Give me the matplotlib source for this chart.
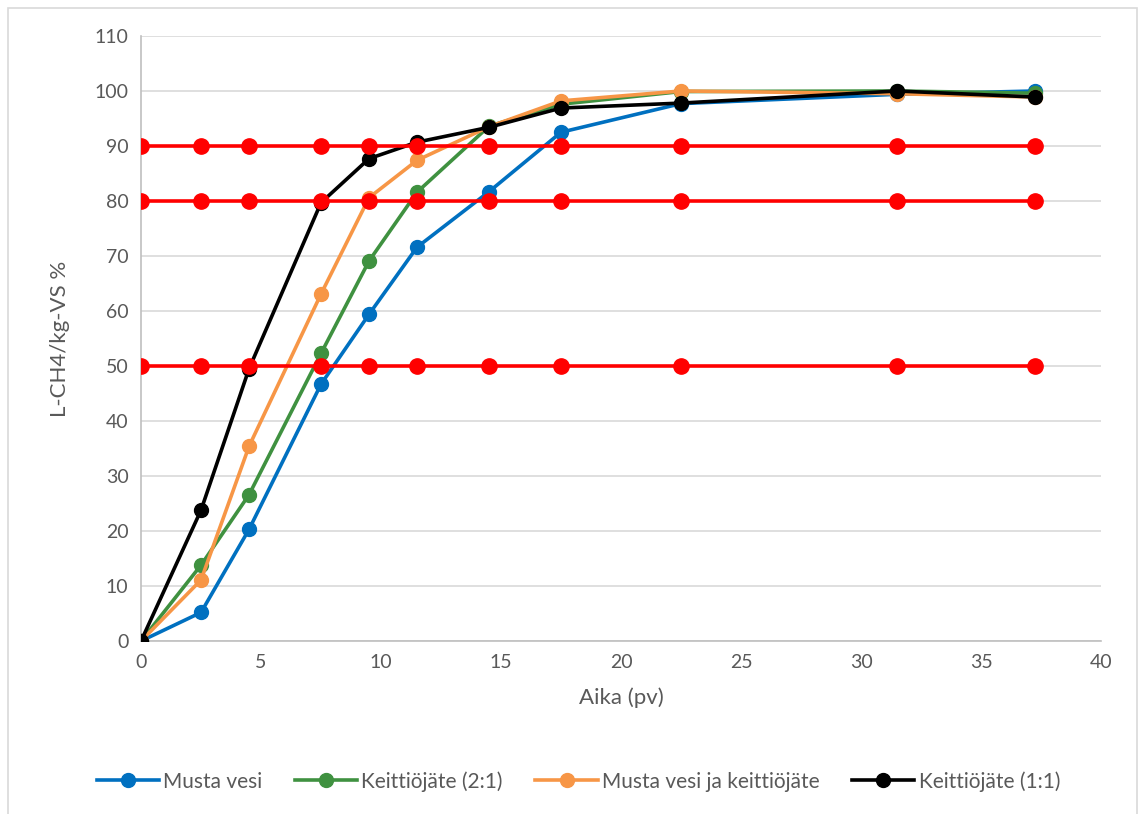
import matplotlib.pyplot as plt
from matplotlib.patches import Rectangle

# sampling days
days = [0, 2.5, 4.5, 7.5, 9.5, 11.5, 14.5, 17.5, 22.5, 31.5, 37.25]

# cumulative methane yield, % of final
musta_vesi = [0, 5.2, 20.3, 46.7, 59.4, 71.6, 81.7, 92.5, 97.7, 99.4, 100.0]
keittiojate_21 = [0, 13.8, 26.6, 52.3, 69.1, 81.6, 93.6, 97.6, 99.9, 100.0, 99.6]
mv_keittiojate = [0, 11.1, 35.4, 63.1, 80.6, 87.4, 93.5, 98.2, 100.0, 99.5, 98.9]
keittiojate_11 = [0, 23.8, 49.5, 79.7, 87.7, 90.7, 93.4, 96.9, 97.8, 100.0, 98.9]

# reference levels
levels = [50, 80, 90]

series = [
    ("Musta vesi", musta_vesi, "#0070C0"),
    ("Keittiöjäte (2:1)", keittiojate_21, "#3F9140"),
    ("Musta vesi ja keittiöjäte", mv_keittiojate, "#F79646"),
    ("Keittiöjäte (1:1)", keittiojate_11, "#000000"),
]

plt.rcParams["font.family"] = ["Lato", "DejaVu Sans"]

fig = plt.figure(figsize=(11.43, 8.14), dpi=100)
ax = fig.add_axes([0.1234, 0.2125, 0.8399, 0.7433])

for name, vals, col in series:
    ax.plot(days, vals, color=col, lw=2.6, marker="o", ms=10, label=name, zorder=3)

for lv in levels:
    ax.plot(days, [lv] * len(days), color="#FF0000", lw=2.6, marker="o", ms=11, zorder=4)

ax.set_xlim(0, 40)
ax.set_ylim(0, 110)
ax.set_xticks(range(0, 41, 5))
ax.set_yticks(range(0, 111, 10))
ax.grid(axis="y", color="#D9D9D9", lw=1.2)
ax.set_axisbelow(True)
for s in ["top", "right"]:
    ax.spines[s].set_visible(False)
for s in ["left", "bottom"]:
    ax.spines[s].set_color("#BFBFBF")
    ax.spines[s].set_linewidth(1.2)
ax.tick_params(length=0, labelsize=14, colors="#595959", pad=9)
for lab in ax.get_xticklabels() + ax.get_yticklabels():
    lab.set_clip_on(False)

ax.set_xlabel("Aika (pv)", fontsize=16, color="#595959", labelpad=12)
ax.set_ylabel("L-CH4/kg-VS %", fontsize=16, color="#595959", labelpad=18)

handles, labels = ax.get_legend_handles_labels()
fig.legend(handles, labels, loc="center", bbox_to_anchor=(0.506, 0.04), ncol=4,
           frameon=False, fontsize=15, handlelength=3.0, handletextpad=0.2,
           columnspacing=1.55, labelcolor="#595959")

fig.add_artist(Rectangle((0.007, -0.01), 0.988, 1.0, transform=fig.transFigure,
                         fill=False, edgecolor="#D9D9D9", lw=1.2))

fig.savefig("out.png", dpi=100, facecolor="white")
